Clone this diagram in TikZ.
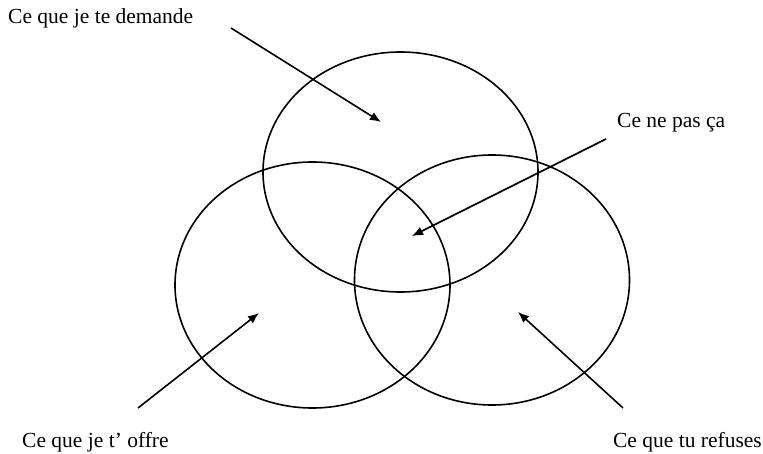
\documentclass[tikz,border=0pt]{standalone}
\usepackage{fontspec}
\setmainfont{Liberation Serif}
\usetikzlibrary{shapes.geometric,arrows.meta}
\begin{document}
\begin{tikzpicture}[x=1pt,y=-1pt,
  circ/.style={draw, line width=1.6pt, ellipse, inner sep=0pt, minimum width=275pt, minimum height=244pt},
  lab/.style={font=\fontsize{21.5}{24}\selectfont, inner sep=0pt},
  arr/.style={line width=1.6pt, -{Latex[length=11pt,width=9pt]}}]
\useasboundingbox (0,0) rectangle (763,454);
\node[circ, minimum height=240pt] (top) at (400.5,172) {};
\node[circ, minimum height=246pt] (left) at (312.5,285) {};
\node[circ, minimum height=250pt] (right) at (492,280) {};
\node[lab, anchor=west] (t1) at (8,18) {Ce que je te demande};
\node[lab, anchor=west] (t2) at (617,123) {Ce ne pas ça};
\node[lab, anchor=west] (t3) at (22,442) {Ce que je t’ offre};
\node[lab, anchor=east] (t4) at (762,442) {Ce que tu refuses};
\coordinate (s1) at (231,28);
\coordinate (e1) at (381,122);
\coordinate (s2) at (606,139);
\coordinate (e2) at (412,236);
\coordinate (s3) at (138,408);
\coordinate (e3) at (259,313);
\coordinate (s4) at (623,408);
\coordinate (e4) at (518,312);
\draw[arr] (s1) -- (e1);
\draw[arr] (s2) -- (e2);
\draw[arr] (s3) -- (e3);
\draw[arr] (s4) -- (e4);
\end{tikzpicture}
\end{document}
